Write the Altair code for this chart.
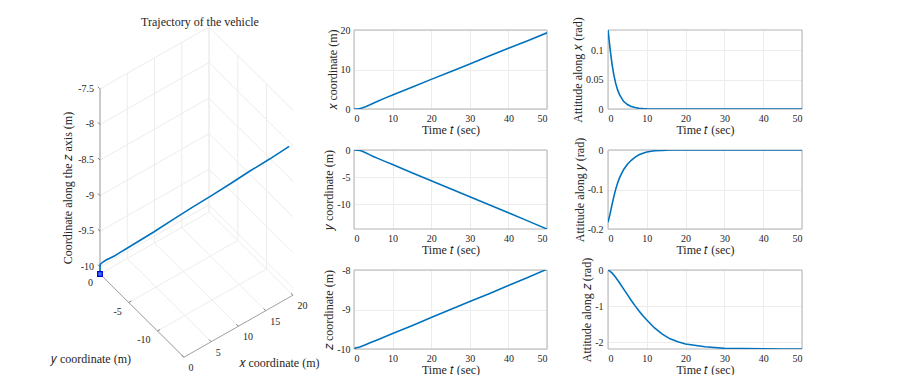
import altair as alt
import pandas as pd

# ---------------- data ----------------
T_POS = [0, 0.25, 0.5, 1, 1.5, 2, 3, 4, 5, 6, 8, 10, 15, 20, 25, 30, 35, 40, 45, 50]
X_POS = [0, 0.002, 0.01, 0.04, 0.12, 0.25, 0.6, 1.0, 1.45, 1.9, 2.75, 3.55, 5.5, 7.5,
         9.45, 11.4, 13.4, 15.35, 17.3, 19.3]
Y_POS = [0, -0.002, -0.01, -0.04, -0.1, -0.2, -0.5, -0.85, -1.2, -1.5, -2.1, -2.7, -4.2,
         -5.7, -7.15, -8.65, -10.1, -11.6, -13.1, -14.6]
Z_POS = [-10.1, -9.99, -9.97, -9.96, -9.95, -9.93, -9.89, -9.85, -9.81, -9.77, -9.69,
         -9.61, -9.41, -9.2, -9.0, -8.8, -8.6, -8.39, -8.19, -7.98]

T_ATT = [0, 0.5, 1, 1.5, 2, 2.5, 3, 4, 5, 6, 7, 8, 9, 10, 12, 14, 16, 18, 20, 25, 30, 35, 40, 45, 50]
ROLL = [0.134, 0.104, 0.078, 0.058, 0.043, 0.032, 0.024, 0.013, 0.0075, 0.0042, 0.0024,
        0.0013, 0.0007, 0.0004, 0.0001, 0, 0, 0, 0, 0, 0, 0, 0, 0, 0]
PITCH = [-0.183, -0.163, -0.14, -0.118, -0.099, -0.083, -0.07, -0.05, -0.036, -0.026,
         -0.018, -0.012, -0.008, -0.005, -0.002, -0.001, 0, 0, 0, 0, 0, 0, 0, 0, 0]
YAW = [0, -0.03, -0.08, -0.14, -0.21, -0.28, -0.36, -0.52, -0.68, -0.84, -0.99, -1.13,
       -1.26, -1.38, -1.6, -1.77, -1.9, -1.98, -2.04, -2.12, -2.16, -2.17, -2.175, -2.178, -2.18]

T_TICKS = [0, 10, 20, 30, 40, 50]
X_TICKS = [0, 10, 20]
Y_TICKS = [-10, -5, 0]
Z_TICKS = [-10, -9, -8]
ROLL_TICKS = [0, 0.05, 0.1]
PITCH_TICKS = [-0.2, -0.1, 0]
YAW_TICKS = [-2, -1, 0]

# 3-D box
X3_TICKS = [0, 5, 10, 15, 20]
Y3_TICKS = [0, -5, -10]
Z3_TICKS = [-10, -9.5, -9, -8.5, -8, -7.5]
X3_LIM = [0, 20]
Y3_LIM = [-14.6, 0]
Z3_LIM = [-10.1, -7.5]

# ---------------- style / layout ----------------
FONT = "Liberation Serif"
BLUE = "#0072BD"
TXT = "#262626"
GRID = "#ececec"
AXC = "#b3b3b3"

PW1, PW2, PH = 193, 194, 79      # 2-D panel sizes
W3 = 285                         # width of the 3-D cell (its drawing overflows the cell)
TOP = 22                         # distance from page top margin to the first row of panels

# 3-D cell local coordinates: origin at the cell's top-left corner
OX, OY = 92, 244           # screen position of (x=0, y=0, z=zmin)
EXX, EXY = 5.45, -3.1      # screen step per unit x
EYX, EYY = -5.75, -5.7     # screen step per unit y
EZ = -71.2                 # screen step per unit z
ZMIN = Z3_LIM[0]


def sx_expr(xf, yf):
    return f"{OX} + {EXX}*datum.{xf} + ({EYX})*datum.{yf}"


def sy_expr(xf, yf, zf):
    return f"{OY} + ({EXY})*datum.{xf} + ({EYY})*datum.{yf} + ({EZ})*(datum.{zf} - ({ZMIN}))"


XS = alt.X("sx:Q", scale=alt.Scale(domain=[0, W3], nice=False, zero=False), axis=None)
YS = alt.Y("sy:Q", scale=alt.Scale(domain=[0, PH], nice=False, zero=False, reverse=True), axis=None)

xmin, xmax = X3_LIM
ymin, ymax = Y3_LIM
zmin, zmax = Z3_LIM

grid_rows = []
for xv in X3_TICKS:
    grid_rows.append((xv, ymax, zmin, xv, ymax, zmax))
    grid_rows.append((xv, ymax, zmin, xv, ymin, zmin))
for yv in Y3_TICKS:
    grid_rows.append((xmax, yv, zmin, xmax, yv, zmax))
    grid_rows.append((xmin, yv, zmin, xmax, yv, zmin))
for zv in Z3_TICKS:
    grid_rows.append((xmin, ymax, zv, xmax, ymax, zv))
    grid_rows.append((xmax, ymax, zv, xmax, ymin, zv))
grid_df = pd.DataFrame(grid_rows, columns=["x1", "y1", "z1", "x2", "y2", "z2"])

axis_df = pd.DataFrame([
    (xmin, ymax, zmin, xmin, ymax, zmax),
    (xmin, ymax, zmin, xmin, ymin, zmin),
    (xmin, ymin, zmin, xmax, ymin, zmin),
], columns=["x1", "y1", "z1", "x2", "y2", "z2"])


def seg_layer(df, color, width):
    return alt.Chart(df).transform_calculate(
        sx=sx_expr("x1", "y1"), sy=sy_expr("x1", "y1", "z1"),
        sx2=sx_expr("x2", "y2"), sy2=sy_expr("x2", "y2", "z2"),
    ).mark_rule(color=color, strokeWidth=width).encode(x=XS, y=YS, x2="sx2:Q", y2="sy2:Q")


tick_rows = []
for zv in Z3_TICKS:
    tick_rows.append((xmin, ymax, zv, -2.2, -2.2))
for yv in Y3_TICKS:
    tick_rows.append((xmin, yv, zmin, 2.6, -1.5))
for xv in X3_TICKS:
    tick_rows.append((xv, ymin, zmin, -2.1, -2.1))
tick_df = pd.DataFrame(tick_rows, columns=["x", "y", "z", "dx", "dy"])
ticks3 = alt.Chart(tick_df).transform_calculate(
    sx=sx_expr("x", "y"), sy=sy_expr("x", "y", "z"),
).transform_calculate(
    sx2="datum.sx + datum.dx", sy2="datum.sy + datum.dy"
).mark_rule(color="#808080", strokeWidth=1).encode(x=XS, y=YS, x2="sx2:Q", y2="sy2:Q")


def label_layer(df, align, dx, dy):
    return alt.Chart(df).transform_calculate(
        sx=sx_expr("x", "y"), sy=sy_expr("x", "y", "z"),
    ).mark_text(font=FONT, fontSize=10, color=TXT, align=align, baseline="middle",
                dx=dx, dy=dy).encode(x=XS, y=YS, text="lab:N")


zlab_df = pd.DataFrame({"x": xmin, "y": ymax, "z": Z3_TICKS, "lab": [f"{v:g}" for v in Z3_TICKS]})
ylab_df = pd.DataFrame({"x": xmin, "y": Y3_TICKS, "z": zmin, "lab": [f"{v:g}" for v in Y3_TICKS]})
xlab_df = pd.DataFrame({"x": X3_TICKS, "y": ymin, "z": zmin, "lab": [f"{v:g}" for v in X3_TICKS]})

traj_df = pd.DataFrame({"t": T_POS, "x": X_POS, "y": Y_POS, "z": Z_POS})
traj = alt.Chart(traj_df).transform_calculate(
    sx=sx_expr("x", "y"), sy=sy_expr("x", "y", "z"),
).mark_line(color=BLUE, strokeWidth=1.6).encode(x=XS, y=YS, order="t:Q")
start = alt.Chart(traj_df).transform_filter("datum.t == 0").transform_calculate(
    sx=sx_expr("x", "y"), sy=sy_expr("x", "y", "z"),
).mark_point(shape="square", size=22, filled=True, fill="#3d6bff", stroke="#0000cc",
             strokeWidth=1.2, opacity=1).encode(x=XS, y=YS)

one = pd.DataFrame({"a": [0]})


def free_text(txt, x, y, size=12, angle=0):
    return alt.Chart(one).mark_text(text=txt, font=FONT, fontSize=size, color=TXT, angle=angle,
                                    align="center", baseline="middle").encode(
        x=alt.value(x), y=alt.value(y))


# invisible block that reaches the page's top margin, so the panels start TOP px lower
top_pad = alt.Chart(one).mark_rect(opacity=0).encode(
    x=alt.value(0), x2=alt.value(1), y=alt.value(-TOP), y2=alt.value(-TOP + 1))

left = alt.layer(
    top_pad,
    seg_layer(grid_df, GRID, 1),
    seg_layer(axis_df, "#a0a0a0", 1),
    ticks3,
    label_layer(zlab_df, "right", -6, 0),
    label_layer(ylab_df, "right", -7, 9),
    label_layer(xlab_df, "left", 4.5, 11),
    traj,
    start,
    free_text("Trajectory of the vehicle", 192, 14 - TOP),
    free_text("Coordinate along the 𝑧 axis (m)", 60, 180 - TOP, angle=270),
    free_text("𝑦 coordinate (m)", 83, 351 - TOP),
    free_text("𝑥 coordinate (m)", 271, 355 - TOP),
).properties(width=W3, height=PH)

# ---------------- 2-D panels ----------------
pos_df = pd.DataFrame({"t": T_POS, "x": X_POS, "y": Y_POS, "z": Z_POS})
att_df = pd.DataFrame({"t": T_ATT, "roll": ROLL, "pitch": PITCH, "yaw": YAW})


def panel(df, field, title, domain, ticks, width, lpad):
    line = alt.Chart(df).mark_line(color=BLUE, strokeWidth=1.6, clip=True).encode(
        x=alt.X("t:Q", scale=alt.Scale(domain=[0, 50], nice=False),
                axis=alt.Axis(values=T_TICKS, title="Time 𝑡 (sec)", labelExpr="'' + datum.value")),
        y=alt.Y(f"{field}:Q", scale=alt.Scale(domain=domain, nice=False, zero=False),
                axis=alt.Axis(values=ticks, title=title, labelExpr="'' + datum.value",
                              labelPadding=lpad)),
        order="t:Q",
    )
    box = alt.Chart(one).mark_rect(filled=False, color=AXC, strokeWidth=1).encode(
        x=alt.value(0), x2=alt.value("width"), y=alt.value(0), y2=alt.value("height"))
    return alt.layer(box, line).properties(width=width, height=PH)


def empty_cell():
    return alt.Chart(one).mark_point(opacity=0).encode(
        x=alt.X("a:Q", axis=None), y=alt.Y("a:Q", axis=None)
    ).properties(width=W3, height=PH)


cells = [
    left,
    panel(pos_df, "x", "𝑥 coordinate (m)", [0, 20], X_TICKS, PW1, 4),
    panel(att_df, "roll", "Attitude along 𝑥 (rad)", [0, 0.134], ROLL_TICKS, PW2, 5),
    empty_cell(),
    panel(pos_df, "y", "𝑦 coordinate (m)", [-14.6, 0], Y_TICKS, PW1, 4),
    panel(att_df, "pitch", "Attitude along 𝑦 (rad)", [-0.2, 0], PITCH_TICKS, PW2, 5),
    empty_cell(),
    panel(pos_df, "z", "𝑧 coordinate (m)", [-10, -8], Z_TICKS, PW1, 4),
    panel(att_df, "yaw", "Attitude along 𝑧 (rad)", [-2.18, 0], YAW_TICKS, PW2, 5),
]

chart = alt.concat(*cells, columns=3, spacing={"row": 41, "column": 61}, bounds="flush").properties(
    padding={"left": 0, "top": 0, "right": 0, "bottom": 0}
).configure_view(
    strokeWidth=0
).configure_axis(
    grid=True, gridColor=GRID, gridWidth=1, domain=False, ticks=False,
    labelFont=FONT, labelFontSize=10, labelColor=TXT, labelPadding=4,
    titleFont=FONT, titleFontSize=12, titleFontWeight="normal", titleColor=TXT,
    titlePadding=1,
)

chart.save("out.html", embed_options={"renderer": "svg", "actions": False})
